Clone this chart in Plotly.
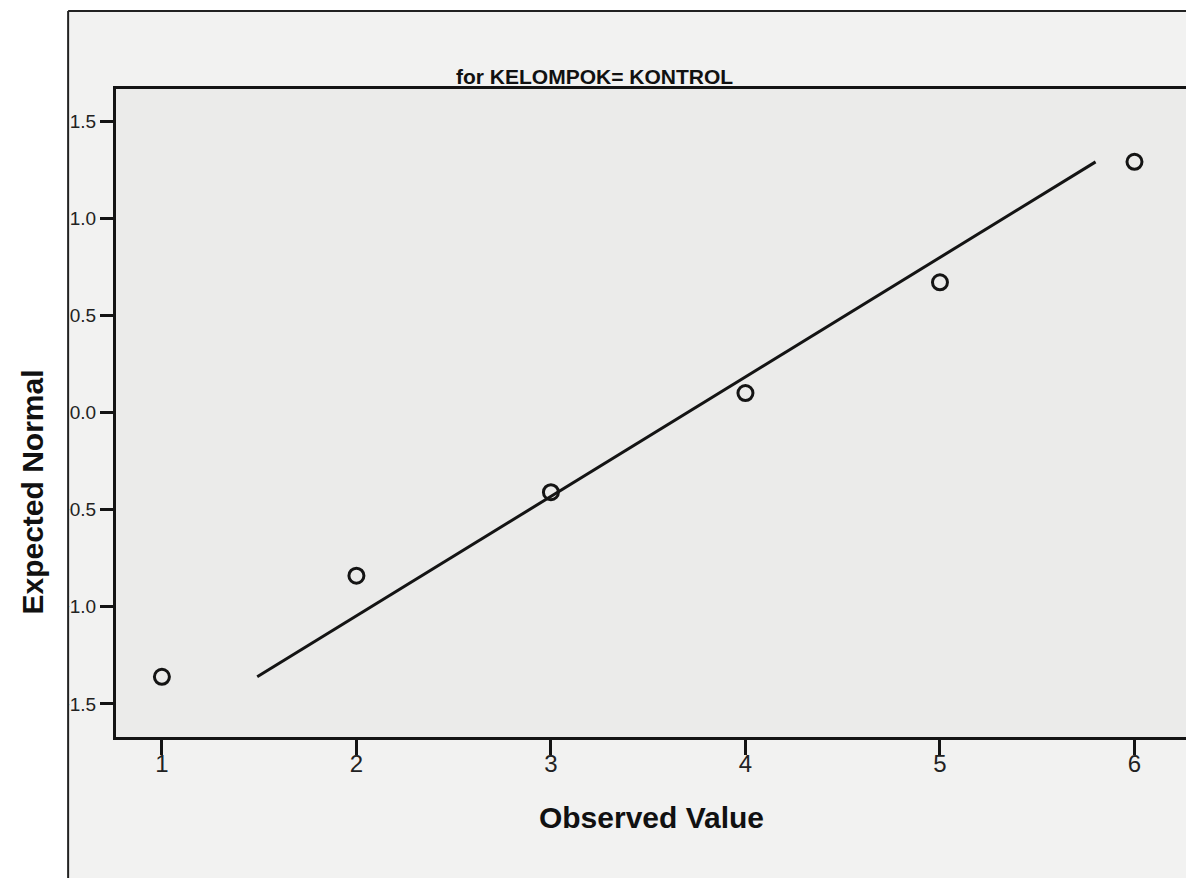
import plotly.graph_objects as go

# Q-Q plot data
observed = [1, 2, 3, 4, 5, 6]
expected = [-1.36, -0.84, -0.41, 0.10, 0.67, 1.29]

# reference line end points
line_x = [1.49, 5.80]
line_y = [-1.36, 1.29]

x_ticks = [1, 2, 3, 4, 5, 6]
y_ticks = [-1.5, -1.0, -0.5, 0.0, 0.5, 1.0, 1.5]

FONT = "Liberation Sans, Arial, sans-serif"
INK = "#141414"

fig = go.Figure()

fig.add_trace(go.Scatter(
    x=line_x, y=line_y,
    mode="lines",
    line=dict(color=INK, width=3),
    hoverinfo="skip",
    showlegend=False
))

fig.add_trace(go.Scatter(
    x=observed, y=expected,
    mode="markers",
    marker=dict(symbol="circle-open", size=15, color=INK, line=dict(color=INK, width=3)),
    hovertemplate="Observed: %{x}<br>Expected: %{y:.2f}<extra></extra>",
    showlegend=False
))

fig.update_xaxes(
    range=[0.764, 6.27],
    tickvals=x_ticks,
    ticks="outside", ticklen=15, tickwidth=2.5, tickcolor=INK,
    ticklabelstandoff=-12,
    tickfont=dict(family=FONT, size=24, color="#222"),
    showline=True, linewidth=2.5, linecolor=INK, mirror=True,
    showgrid=False, zeroline=False,
    title=dict(text="<b>Observed Value</b>", font=dict(family=FONT, size=30, color="#111"), standoff=32)
)

fig.update_yaxes(
    range=[-1.67, 1.665],
    tickvals=y_ticks,
    tickformat=".1f",
    ticks="outside", ticklen=13, tickwidth=3, tickcolor=INK,
    tickfont=dict(family=FONT, size=19, color="#222"),
    showline=True, linewidth=3, linecolor=INK, mirror=True,
    showgrid=False, zeroline=False
)

# scanned page: white margin, framed grey sheet
fig.add_shape(type="rect", xref="paper", yref="paper", x0=-0.2, x1=-0.0447, y0=-0.3, y1=1.3,
              fillcolor="white", line_width=0, layer="above")
fig.add_shape(type="rect", xref="paper", yref="paper", x0=-0.2, x1=1.1, y0=1.1204, y1=1.3,
              fillcolor="white", line_width=0, layer="above")
fig.add_shape(type="line", xref="paper", yref="paper", x0=-0.0447, x1=-0.0447, y0=-0.3, y1=1.1204,
              line=dict(color="#222", width=2), layer="above")
fig.add_shape(type="line", xref="paper", yref="paper", x0=-0.0447, x1=1.1, y0=1.1204, y1=1.1204,
              line=dict(color="#222", width=2), layer="above")

fig.add_annotation(
    text="<b>for KELOMPOK= KONTROL</b>",
    xref="paper", yref="paper", x=0.447, y=1.019,
    xanchor="center", yanchor="middle", showarrow=False,
    font=dict(family=FONT, size=21, color="#111")
)

fig.add_annotation(
    text="<b>Expected Normal</b>",
    xref="paper", yref="paper", x=-0.078, y=0.378,
    xanchor="center", yanchor="middle", textangle=-90, showarrow=False,
    font=dict(family=FONT, size=30, color="#111")
)

fig.update_layout(
    width=1186, height=870,
    margin=dict(l=108, r=4, t=81, b=141),
    paper_bgcolor="#f2f2f1",
    plot_bgcolor="#ebebea",
    font=dict(family=FONT, color="#222")
)

fig.write_html("out.html")
